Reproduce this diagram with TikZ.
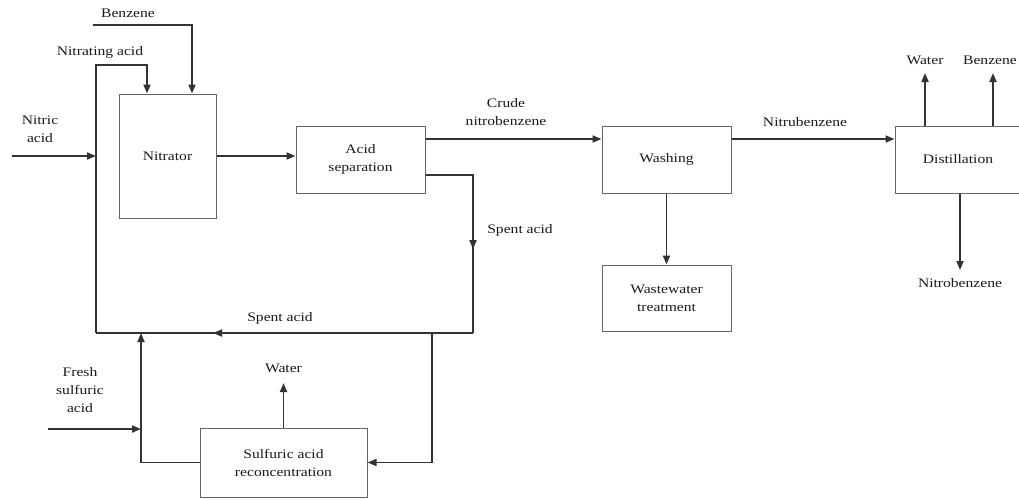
\documentclass[tikz,border=0pt]{standalone}
\usepackage{fontspec}
\setmainfont{Liberation Serif}[FakeStretch=1.2]
\usetikzlibrary{arrows.meta,calc}
\begin{document}
\begin{tikzpicture}[x=1pt,y=-1pt,
  box/.style={draw=black!60, line width=1pt, inner sep=0pt, align=center, text=black!90, font=\fontsize{13}{18}\selectfont},
  lbl/.style={inner sep=0pt, align=center, text=black!90, font=\fontsize{13}{18}\selectfont},
  line/.style={draw=black!80, line width=1.9pt},
  arr/.style={line, -{Triangle[length=9pt,width=7pt]}}]
\useasboundingbox (0,0) rectangle (1019,499);
% boxes
\node[box, minimum width=97pt, minimum height=124pt] (nitrator) at (167.5,156) {Nitrator};
\node[box, minimum width=129pt, minimum height=67pt] (acidsep) at (360.5,159.5) {Acid\\separation};
\node[box, minimum width=129pt, minimum height=67pt] (washing) at (666.5,159.5) {Washing};
\node[box, minimum width=129pt, minimum height=66pt] (waste) at (666.5,298) {Wastewater\\treatment};
\node[box, minimum width=126pt, minimum height=67pt] (distil) at (958,159.5) {Distillation};
\node[box, minimum width=167pt, minimum height=69pt] (recon) at (283.5,462.5) {Sulfuric acid\\reconcentration};
% labels
\node[lbl] (lbenz) at (128,13) {Benzene};
\node[lbl] (lnitr) at (100,52) {Nitrating acid};
\node[lbl] (lnitric) at (40,129) {Nitric\\acid};
\node[lbl] (lcrude) at (506,112) {Crude\\nitrobenzene};
\node[lbl] (lspent1) at (520,230) {Spent acid};
\node[lbl] (lspent2) at (280,318) {Spent acid};
\node[lbl] (lfresh) at (80,390) {Fresh\\sulfuric\\acid};
\node[lbl] (lwater) at (283.5,368) {Water};
\node[lbl] (lnb) at (805,122) {Nitrubenzene};
\node[lbl] (lw2) at (925,60) {Water};
\node[lbl] (lb2) at (990,60) {Benzene};
\node[lbl] (lnb2) at (960,283) {Nitrobenzene};
% coordinates
\coordinate (bz) at (93,25);
\coordinate (ll) at (96,333);
\coordinate (na) at (96,65);
\coordinate (ni) at (12,156);
\coordinate (sr) at (473,333);
\coordinate (sa) at (473,249);
\coordinate (sb) at (213,333);
\coordinate (rr) at (432,333);
\coordinate (lr) at (141,333);
\coordinate (fs) at (48,429);
\coordinate (wt) at (283.5,383);
\coordinate (dw) at (925,73);
\coordinate (db) at (993,73);
\coordinate (dn) at (960,270);
% connectors
\draw[arr] (bz) -| ([xshift=24.5pt]nitrator.north);
\draw[arr] (ll) -- (na) -| ([xshift=-20.5pt]nitrator.north);
\draw[arr] (ni) -- (ni -| ll);
\draw[arr] (nitrator.east) -- (nitrator.east -| acidsep.west);
\draw[arr] ([yshift=20.5pt]acidsep.east) -- ([yshift=20.5pt]washing.west);
\draw[arr] ([yshift=20.5pt]washing.east) -- ([yshift=20.5pt]distil.west);
\draw[line] ([yshift=-15.5pt]acidsep.east) -| (sr);
\draw[arr] ([yshift=-15.5pt]acidsep.east) -| (sa);
\draw[line] (sr) -- (ll);
\draw[arr] (sr) -- (sb);
\draw[arr] (rr) |- (recon.east);
\draw[arr] (recon.west) -| (lr);
\draw[arr] (fs) -- (fs -| lr);
\draw[arr] (recon.north) -- (wt);
\draw[arr] (washing.south) -- (waste.north);
\draw[arr] (distil.north -| dw) -- (dw);
\draw[arr] (distil.north -| db) -- (db);
\draw[arr] (distil.south -| dn) -- (dn);
\end{tikzpicture}
\end{document}
